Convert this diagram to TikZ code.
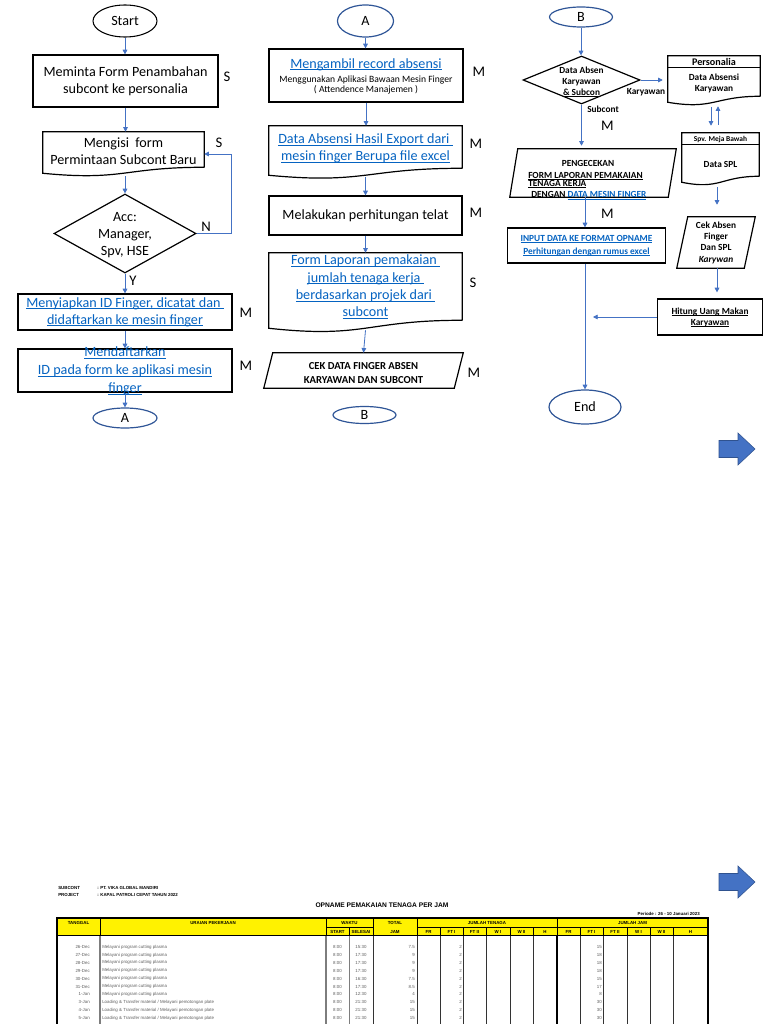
\documentclass[tikz,border=0pt]{standalone}
\usepackage{fontspec}
\setmainfont{Carlito}
\newfontfamily\arialf{Liberation Sans}
\usetikzlibrary{shapes.geometric,arrows.meta,calc}
\definecolor{lkblue}{RGB}{5,99,193}
\definecolor{arblue}{RGB}{68,114,196}
\definecolor{arborder}{RGB}{47,82,143}
\definecolor{ellblue}{RGB}{47,85,151}
\definecolor{tgray}{RGB}{95,95,95}
\definecolor{lgray}{RGB}{125,125,125}
\newsavebox\ulbox
\newcommand\uln[1]{\sbox\ulbox{#1}\rlap{\rule[-0.13em]{\wd\ulbox}{0.065em}}\usebox\ulbox}
\newcommand\lk[1]{\textcolor{lkblue}{\uln{#1}}}
\newcommand\docshape[2]{\draw[boxline] (#1.south east) -- (#1.north east) -- (#1.north west) -- ($(#1.south west)+(0,#2)$) .. controls ($(#1.south)+(0,2.31*#2)$) and (#1.south) .. (#1.south east);}
\newcommand\parashape[2]{\draw[boxline] ($(#1.north west)+(#2,0)$) -- (#1.north east) -- ($(#1.south east)+(-#2,0)$) -- (#1.south west) -- cycle;}
\newcommand\uraiA{Melayani program cutting plasma}
\newcommand\uraiB{Loading \& Transfer material / Melayani pemotongan plate}
\tikzset{
  boxline/.style={draw=black, line width=0.9pt},
  box/.style={boxline, inner sep=0pt},
  wh/.style 2 args={minimum width=#1*0.75pt, minimum height=#2*0.75pt},
  ell/.style={ellipse, draw=black, line width=0.8pt, inner sep=0pt},
  ellb/.style={ellipse, draw=ellblue, line width=0.9pt, inner sep=0pt},
  arr/.style={draw=arblue, line width=0.6pt, -{Triangle[length=3.5pt,width=3.5pt]}},
  txt/.style={font=\fontsize{10.6}{12.8}\selectfont, align=center, inner sep=0pt},
  sml/.style={font=\bfseries\fontsize{7}{8.25}\selectfont, align=center, inner sep=0pt},
  lbl/.style={font=\fontsize{11}{13}\selectfont, inner sep=0pt},
  tbh/.style={font=\arialf\bfseries\fontsize{3.3}{4}\selectfont, inner sep=0pt},
  tbt/.style={font=\arialf\fontsize{3.3}{4}\selectfont, text=tgray, inner sep=0pt}
}
\begin{document}
\begin{tikzpicture}[x=0.75pt,y=-0.75pt]
\useasboundingbox (0,0) rectangle (768,1024);
\clip (0,0) rectangle (768,1024);
\fill[white] (0,0) rectangle (768,1024);

% ---------- column 1 ----------
\node[ell, wh={64}{32}, txt] (start) at (125,21) {Start};
\node[box, wh={185}{52}, txt] (b1) at (125.5,81) {Meminta Form Penambahan\\subcont ke personalia};
\node[lbl] (s1) at (227,77) {S};
\node[wh={161}{35}, inner sep=0pt] (b2) at (123.5,149.5) {};
\docshape{b2}{6}
\node[txt] (b2t) at (123.5,151.5) {Mengisi~ form\\Permintaan Subcont Baru};
\node[lbl] (s2) at (219,143) {S};
\node[diamond, boxline, wh={142}{79}, inner sep=0pt] (d1) at (125,233.5) {};
\node[txt] (d1t) at (125,235) {Acc:\\Manager,\\Spv, HSE};
\node[lbl] (n1) at (206,227) {N};
\node[lbl] (y1) at (133,281) {Y};
\node[box, wh={214}{36}, txt] (b3) at (125,312) {\lk{Menyiapkan ID Finger, dicatat dan }\\\lk{didaftarkan ke mesin finger}};
\node[lbl] (m1) at (246,313) {M};
\node[box, wh={214}{43}] (b4) at (125,370.5) {};
\node[txt, font=\fontsize{10.6}{13.5}\selectfont] (b4t) at (125,371) {\lk{Mendaftarkan}\\\lk{ID pada form ke aplikasi mesin}\\\lk{finger}};
\node[lbl] (m2) at (246,366) {M};
\node[ellb, wh={64}{20}, txt] (a1) at (125,418) {A};

\draw[arr] (start.south) -- (start.south |- b1.north);
\draw[arr] (b1.south) -- (b1.south |- b2.north);
\draw[arr] ($(b2.south)+(1.5,9)$) -- (d1.north);
\draw[arr] (d1.east) -- ++(35,0) |- ($(b2.east)+(0,4.5)$);
\draw[arr] (d1.south) -- (b3.north);
\draw[arr] (b3.south) -- (b4.north);
\draw[arr] (b4.south) -- (a1.north);

% ---------- column 2 ----------
\node[ellb, wh={56}{32}, txt] (a2) at (365.5,21) {A};
\node[box, wh={194}{53}] (b5) at (366,75.5) {};
\node[txt] (b5t) at (366,64.5) {\lk{Mengambil record absensi}};
\node[txt, font=\fontsize{7.2}{8}\selectfont] (b5s) at (366,85) {Menggunakan Aplikasi Bawaan Mesin Finger\\( Attendence Manajemen )};
\node[lbl] (m3) at (479,72) {M};
\node[wh={193}{42}, inner sep=0pt] (b6) at (365.5,147) {};
\docshape{b6}{7}
\node[txt] (b6t) at (365.5,148.5) {\lk{Data Absensi Hasil Export dari }\\\lk{mesin finger Berupa file excel}};
\node[lbl] (m4) at (476,144) {M};
\node[box, wh={193}{39}, txt] (b7) at (365.5,215.5) {Melakukan perhitungan telat};
\node[lbl] (m5) at (476,213) {M};
\node[wh={193}{67}, inner sep=0pt] (b8) at (365.5,286.5) {};
\docshape{b8}{8}
\node[txt, font=\fontsize{10.6}{13}\selectfont] (b8t) at (365.5,287) {\lk{Form Laporan pemakaian }\\\lk{jumlah tenaga kerja }\\\lk{berdasarkan projek dari }\\\lk{subcont}};
\node[lbl] (s3) at (473,283) {S};
\node[wh={199}{35}, inner sep=0pt] (p1) at (363.5,370.5) {};
\parashape{p1}{9}
\node[sml, font=\bfseries\fontsize{8}{10.5}\selectfont] (p1t) at (363.5,373) {CEK DATA FINGER ABSEN\\KARYAWAN DAN SUBCONT};
\node[lbl] (m6) at (474,373) {M};
\node[ellb, wh={63}{17}, txt] (bb1) at (364.5,415) {B};

\draw[arr] (a2.south) -- (a2.south |- b5.north);
\draw[arr] (b5.south) -- (b5.south |- b6.north);
\draw[arr] ($(b6.south)+(0,9)$) -- (b7.north);
\draw[arr] (b7.south) -- (b8.north);
\draw[arr] ($(b8.south)+(0,10)$) -- (p1.north);

% ---------- column 3 ----------
\node[ellb, wh={63}{20}, txt] (bb2) at (581,17) {B};
\node[diamond, boxline, wh={117}{48}, inner sep=0pt] (d2) at (581.5,80) {};
\node[sml] (d2t) at (581.5,81.5) {Data Absen\\Karyawan\\\uln{\& Subcon}};
\node[wh={92}{40}, inner sep=0pt] (pers) at (714,76) {};
\docshape{pers}{6}
\draw[boxline] ($(pers.north west)+(0,12)$) -- ($(pers.north east)+(0,12)$);
\node[sml, font=\bfseries\fontsize{7.6}{9}\selectfont] (perst) at (714,62) {Personalia};
\node[sml] (perss) at (714,83.5) {Data Absensi\\Karyawan};
\node[sml] (lk1) at (646,92) {Karyawan};
\node[sml] (lk2) at (603,109) {Subcont};
\node[lbl] (m7) at (607.5,126) {M};
\node[wh={166}{48}, inner sep=0pt] (pc) at (593,173) {};
\parashape{pc}{8}
\node[sml] (pc1) at (588,163) {PENGECEKAN};
\node[sml, anchor=west] (pc2) at (528,176) {\uln{FORM LAPORAN PEMAKAIAN}};
\node[sml, anchor=west] (pc3) at (528,184) {\uln{TENAGA KERJA}};
\node[sml, anchor=west] (pc4) at (531,195.5) {DENGAN \lk{DATA MESIN FINGER}};
\node[lbl] (m8) at (607.5,214) {M};
\node[box, wh={158}{35}, sml, font=\bfseries\fontsize{7}{9.75}\selectfont] (i1) at (586.5,245.5) {\lk{INPUT DATA KE FORMAT OPNAME}\\\lk{Perhitungan dengan rumus excel}};
\node[ellb, wh={72}{34}, txt] (endn) at (585,407) {End};
\node[wh={77}{43}, inner sep=0pt] (spv) at (720.5,154.5) {};
\docshape{spv}{6}
\draw[boxline] ($(spv.north west)+(0,12)$) -- ($(spv.north east)+(0,12)$);
\node[sml, font=\bfseries\fontsize{5.6}{7}\selectfont] (spvt) at (720.5,140) {Spv. Meja Bawah};
\node[sml] (spvs) at (720.5,164) {Data SPL};
\node[wh={78}{51}, inner sep=0pt] (ck) at (716,242.5) {};
\parashape{ck}{11}
\node[sml, font=\bfseries\fontsize{7}{8.5}\selectfont] (ckt) at (716,242.5) {Cek Absen\\Finger\\Dan SPL\\\textit{Karywan}};
\node[box, wh={105}{36}, sml] (hit) at (710,317) {\uln{Hitung Uang Makan}\\\uln{Karyawan}};
\coordinate (hitend) at (593,317);

\draw[arr] (bb2.south) -- (bb2.south |- d2.north);
\draw[arr] (d2.east) -- ($(d2.east -| pers.west)+(-5,0)$);
\draw[arr] (d2.south) -- ($(d2.south |- pc.north)+(0,-3)$);
\draw[arr] (pc.south -| endn.north) -- (i1.north -| endn.north);
\draw[arr] (i1.south -| endn.north) -- (endn.north);
\draw[arr] (hit.west) -- (hitend);
\draw[arr] ($(pers.south)+(-3,11)$) -- ($(spv.north)+(-9.5,-7)$);
\draw[arr] ($(spv.north)+(-2.5,-8)$) -- ($(pers.south)+(4,10)$);
\draw[arr] ($(spv.south)+(-3.5,11)$) -- ($(ck.north)+(1,-12)$);
\draw[arr] ($(ck.south)+(1,0)$) -- ($(hit.north)+(7,-6)$);

% ---------- block arrows ----------
\filldraw[fill=arblue, draw=arborder, line width=0.4pt] (719,440.5) -- (738,440.5) -- (738,433) -- (755,449) -- (738,465) -- (738,457.5) -- (719,457.5) -- cycle;
\filldraw[fill=arblue, draw=arborder, line width=0.4pt] (719,873.5) -- (738,873.5) -- (738,866) -- (755,882) -- (738,898) -- (738,890.5) -- (719,890.5) -- cycle;

% ---------- table ----------
\node[tbh, anchor=west] at (58,888) {SUBCONT};
\node[tbh, anchor=west] at (97,888) {: PT. VIKA GLOBAL MANDIRI};
\node[tbh, anchor=west] at (58,895) {PROJECT};
\node[tbh, anchor=west] at (97,895) {: KAPAL PATROLI CEPAT TAHUN 2022};
\node[font=\arialf\bfseries\fontsize{5}{6}\selectfont, inner sep=0pt] at (382,905) {OPNAME PEMAKAIAN TENAGA PER JAM};
\node[tbh, anchor=east] at (700,914) {Periode : 26 - 10 Januari 2023};

\fill[yellow] (57,918) rectangle (708,935.5);
\foreach \x in {100,326,373,417,557} \draw[line width=0.5pt] (\x,918) -- (\x,935.5);
\foreach \x in {349,440,463,486,510,533,580,603,627,650,673} \draw[line width=0.5pt] (\x,927.5) -- (\x,935.5);
\draw[line width=0.5pt] (326,927.5) -- (373,927.5) (417,927.5) -- (708,927.5);
\foreach \x in {100,326} \draw[lgray, line width=1pt] (\x,935.5) -- (\x,1030);
\draw[lgray, line width=0.6pt] (349,935.5) -- (349,1030);
\foreach \x in {373,417,440,463,486,510,533,580,603,627,650,673} \draw[black!80, line width=0.5pt] (\x,935.5) -- (\x,1030);
\draw[line width=1pt] (557,935.5) -- (557,1030);
\draw[line width=1.1pt] (57,1030) -- (57,918) -- (708,918) -- (708,1030);
\draw[line width=1.1pt] (57,935.5) -- (708,935.5);

\node[tbh] at (78.5,922.5) {TANGGAL};
\node[tbh] at (213,922.5) {URAIAN PEKERJAAN};
\node[tbh] at (349.5,922.5) {WAKTU};
\node[tbh] at (337.5,931.5) {START};
\node[tbh] at (361,931.5) {SELESAI};
\node[tbh] at (395,922.5) {TOTAL};
\node[tbh] at (395,931.5) {JAM};
\node[tbh] at (487,922.5) {JUMLAH TENAGA};
\node[tbh] at (632.5,922.5) {JUMLAH JAM};
\foreach \x/\t in {428.5/FR,451.5/FT I,474.5/FT II,498/W I,521.5/W II,545/H,568.5/FR,591.5/FT I,615/FT II,638.5/W I,661.5/W II,690.5/H}
  \node[tbh] at (\x,931.5) {\t};

\foreach \dt/\ur/\st/\se/\tj/\ft/\jj [count=\i from 0] in {
  26-Dec/\uraiA/8:00/15:30/7.5/2/15,
  27-Dec/\uraiA/8:00/17:30/9/2/18,
  28-Dec/\uraiA/8:00/17:30/9/2/18,
  29-Dec/\uraiA/8:00/17:30/9/2/18,
  30-Dec/\uraiA/8:00/16:30/7.5/2/15,
  31-Dec/\uraiA/8:00/17:30/8.5/2/17,
  1-Jan/\uraiA/8:00/12:30/4/2/8,
  3-Jan/\uraiB/8:00/21:30/15/2/30,
  4-Jan/\uraiB/8:00/21:30/15/2/30,
  5-Jan/\uraiB/8:00/21:30/15/2/30}{
  \pgfmathsetmacro\yy{947+7.9*\i}
  \node[tbt, anchor=east] at (90,\yy) {\dt};
  \node[tbt, anchor=west] at (102,\yy) {\ur};
  \node[tbt] at (337.5,\yy) {\st};
  \node[tbt] at (361,\yy) {\se};
  \node[tbt, anchor=east] at (415,\yy) {\tj};
  \node[tbt, anchor=east] at (462,\yy) {\ft};
  \node[tbt, anchor=east] at (602,\yy) {\jj};
}
\end{tikzpicture}
\end{document}
